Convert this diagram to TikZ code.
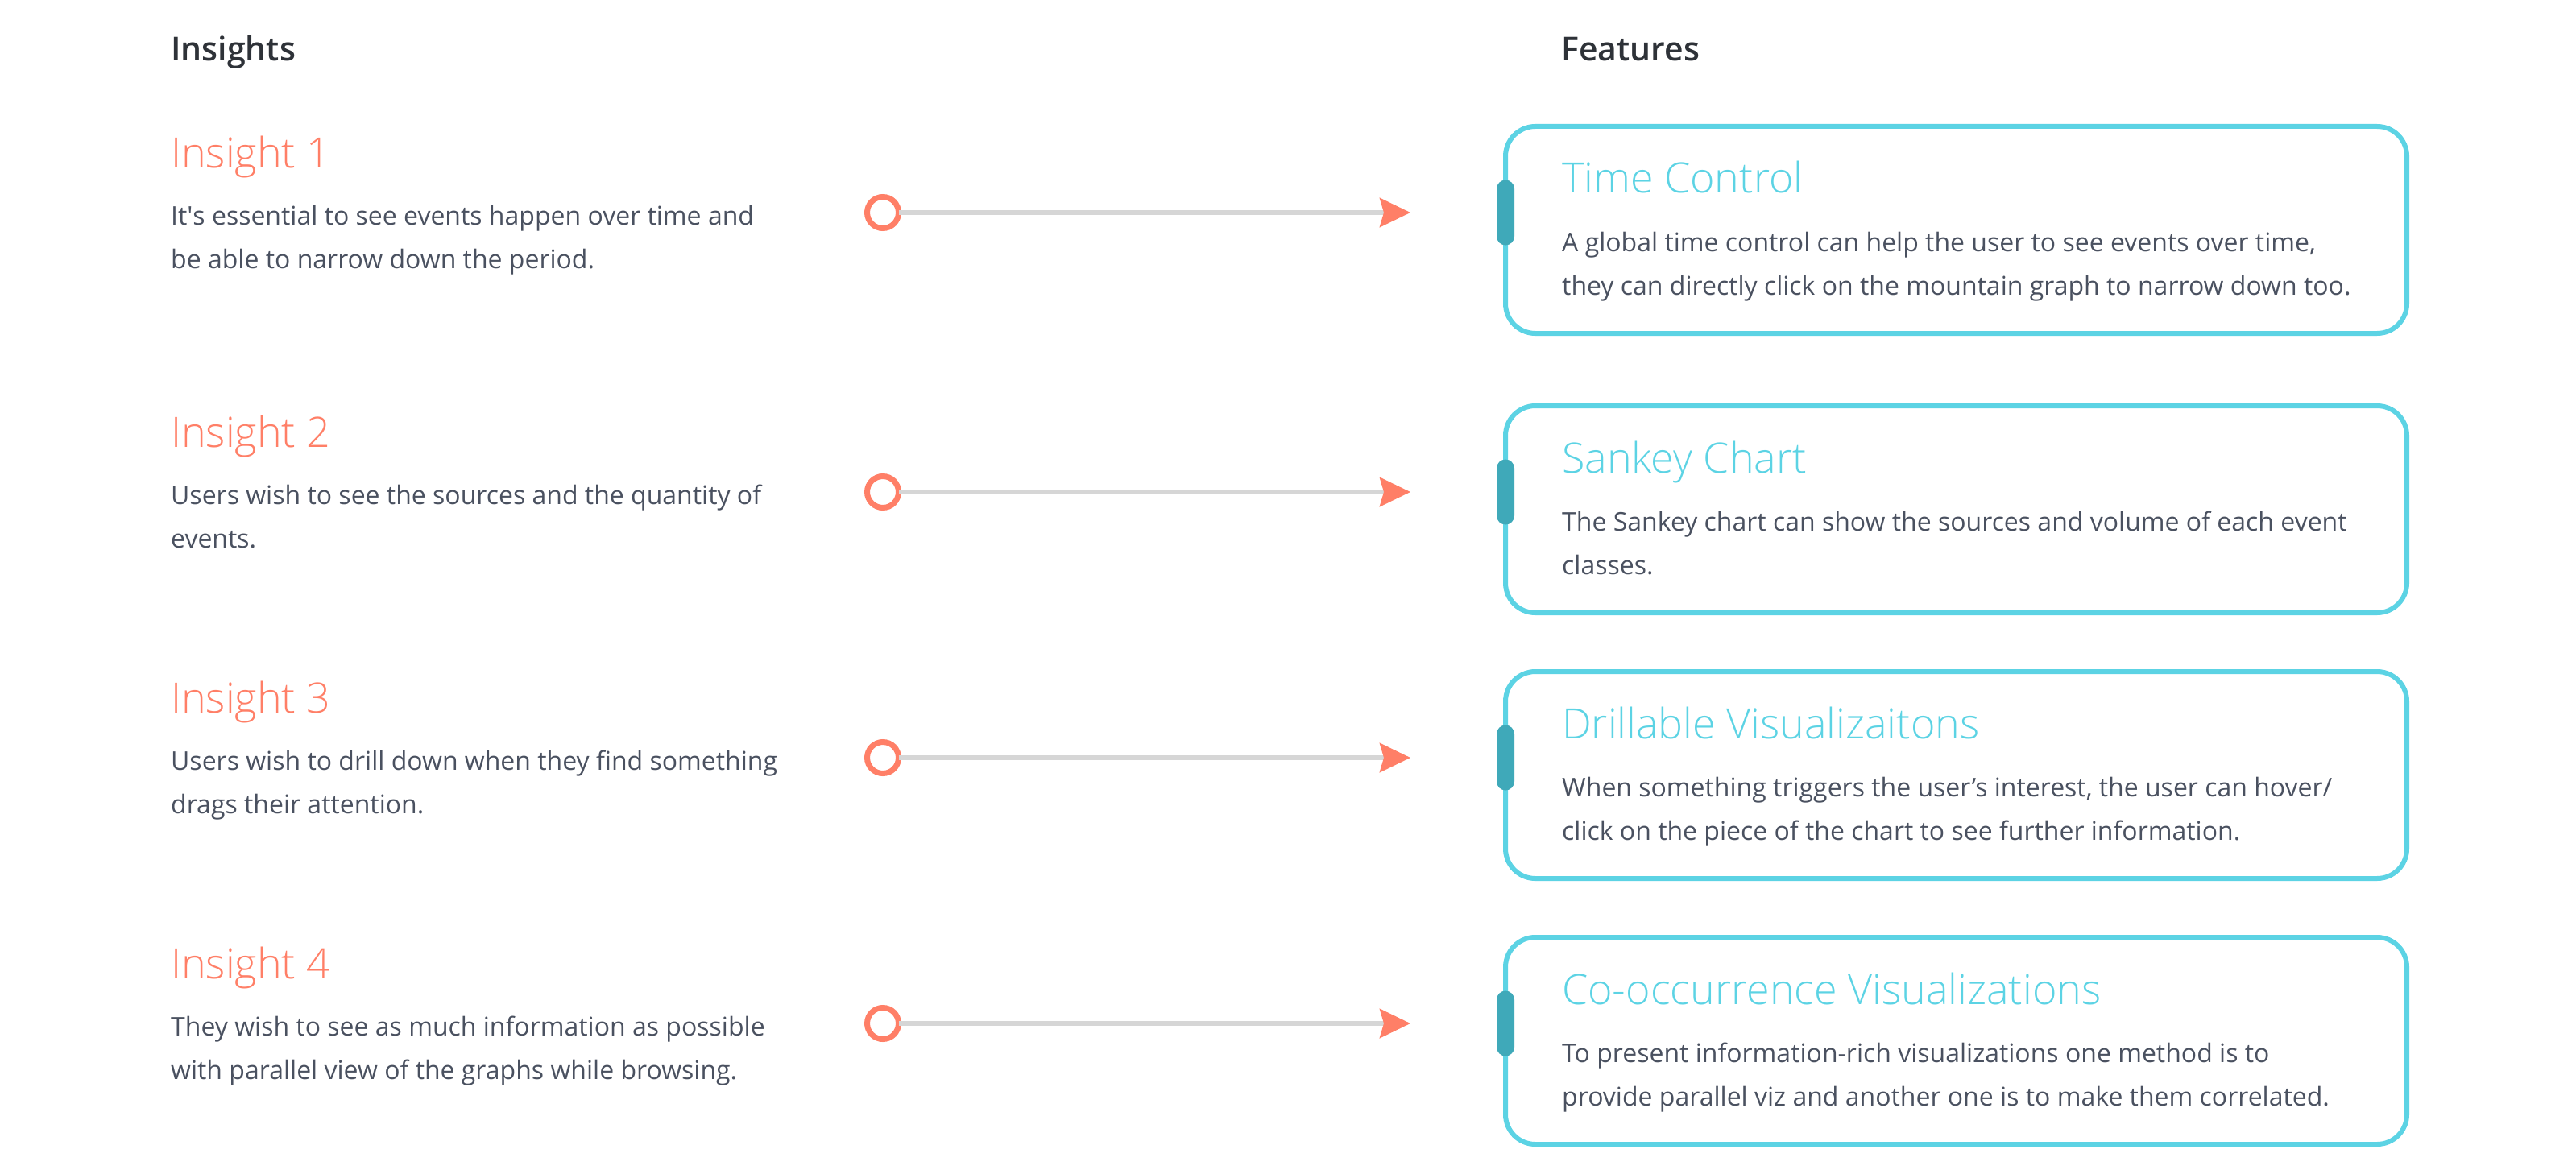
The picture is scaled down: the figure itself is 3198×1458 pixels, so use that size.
\documentclass[tikz,border=0pt]{standalone}
\usepackage{fontspec}
\setmainfont{Open Sans}
\newfontfamily\lightfont{Open Sans Light}
\newfontfamily\semifont{Open Sans Semibold}
\usepackage{tikz}
\usetikzlibrary{arrows.meta}
\definecolor{coral}{HTML}{FF7F67}
\definecolor{skyline}{HTML}{5CD3E4}
\definecolor{tealtab}{HTML}{3FA9B9}
\definecolor{railgray}{HTML}{D6D6D6}
\definecolor{bodygray}{HTML}{4A5160}
\definecolor{headgray}{HTML}{2E3238}
\tikzset{
	header/.style={anchor=base west, inner sep=0pt, text=headgray, font=\semifont\fontsize{41}{49}\selectfont},
	insighttitle/.style={anchor=base west, inner sep=0pt, text=coral, font=\lightfont\fontsize{52}{62}\selectfont},
	feattitle/.style={anchor=base west, inner sep=0pt, text=skyline, font=\lightfont\fontsize{52}{62}\selectfont},
	bodytext/.style={anchor=base west, inner sep=0pt, align=left, text=bodygray, font=\fontsize{32}{54}\selectfont},
	ring/.style={circle, draw=coral, line width=7pt, minimum size=39pt, inner sep=0pt, outer sep=0pt, fill=white},
	link/.style={draw=railgray, line width=6pt, -{Stealth[length=38pt, width=36pt, inset=5pt, color=coral]}},
	featbox/.style={draw=skyline, line width=6pt, rounded corners=37pt, minimum width=1119pt, minimum height=257pt, anchor=north west, outer sep=0pt, inner sep=0pt},
	handle/.style={fill=tealtab, rounded corners=11pt, minimum width=22pt, minimum height=81pt, inner sep=0pt},
}

\begin{document}
\begin{tikzpicture}[x=1pt, y=-1pt]
			%%%%% START %%%%%
			\useasboundingbox (0, 0) rectangle (3198, 1458);
			
			\node[header] (hinsights) at (212, 76) {Insights};
			\node[header] (hfeatures) at (1938, 76) {Features};
			
			% row 1
			\node[insighttitle] (ins1) at (212, 208) {Insight 1};
			\node[bodytext] (insbody1) at (212, 333) {It\textquotesingle s essential to see events happen over time and\\be able to narrow down the period.};
			\node[ring] (ring1) at (1096, 264) {};
			\coordinate (tip1) at (1751, 264);
			\draw[link] (ring1.east) -- (tip1);
			\node[featbox] (feat1) at (1869, 157) {};
			\node[handle] (handle1) at (feat1.west |- ring1) {};
			\node[feattitle] (ftitle1) at (1939, 240) {Time Control};
			\node[bodytext] (fbody1) at (1939, 366) {A global time control can help the user to see events over time,\\they can directly click on the mountain graph to narrow down too.};
			
			% row 2
			\node[insighttitle] (ins2) at (212, 555) {Insight 2};
			\node[bodytext] (insbody2) at (212, 680) {Users wish to see the sources and the quantity of\\events.};
			\node[ring] (ring2) at (1096, 611) {};
			\coordinate (tip2) at (1751, 611);
			\draw[link] (ring2.east) -- (tip2);
			\node[featbox] (feat2) at (1869, 504) {};
			\node[handle] (handle2) at (feat2.west |- ring2) {};
			\node[feattitle] (ftitle2) at (1939, 587) {Sankey Chart};
			\node[bodytext] (fbody2) at (1939, 713) {The Sankey chart can show the sources and volume of each event\\classes.};
			
			% row 3
			\node[insighttitle] (ins3) at (212, 885) {Insight 3};
			\node[bodytext] (insbody3) at (212, 1010) {Users wish to drill down when they find something\\drags their attention.};
			\node[ring] (ring3) at (1096, 941) {};
			\coordinate (tip3) at (1751, 941);
			\draw[link] (ring3.east) -- (tip3);
			\node[featbox] (feat3) at (1869, 834) {};
			\node[handle] (handle3) at (feat3.west |- ring3) {};
			\node[feattitle] (ftitle3) at (1939, 917) {Drillable Visualizaitons};
			\node[bodytext] (fbody3) at (1939, 1043) {When something triggers the user’s interest, the user can hover/\\click on the piece of the chart to see further information.};
			
			% row 4
			\node[insighttitle] (ins4) at (212, 1215) {Insight 4};
			\node[bodytext] (insbody4) at (212, 1340) {They wish to see as much information as possible\\with parallel view of the graphs while browsing.};
			\node[ring] (ring4) at (1096, 1271) {};
			\coordinate (tip4) at (1751, 1271);
			\draw[link] (ring4.east) -- (tip4);
			\node[featbox] (feat4) at (1869, 1164) {};
			\node[handle] (handle4) at (feat4.west |- ring4) {};
			\node[feattitle] (ftitle4) at (1939, 1247) {Co-occurrence Visualizations};
			\node[bodytext] (fbody4) at (1939, 1373) {To present information-rich visualizations one method is to\\provide parallel viz and another one is to make them correlated.};
			
			%%%%% END %%%%%
\end{tikzpicture}
\end{document}
